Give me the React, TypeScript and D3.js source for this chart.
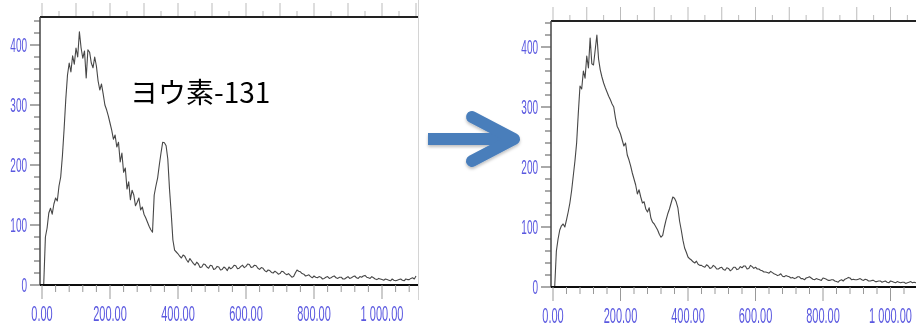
import React from 'react';
import * as d3 from 'd3';

// channel grid (energy units) shared by both spectra
const channels = d3.range(0, 1101, 5);

// counts (before)
const beforeCounts = [
  0, 0, 80, 95, 120, 128, 118, 135, 145, 140, 165, 180, 215, 260, 310, 350, 370, 355, 382, 368,
  395, 380, 422, 395, 378, 390, 345, 392, 388, 370, 362, 380, 365, 340, 325, 335, 318, 300, 292, 282,
  270, 258, 243, 250, 230, 238, 205, 220, 188, 195, 160, 172, 142, 158, 150, 132, 138, 145, 125, 130,
  118, 112, 105, 98, 92, 88, 150, 165, 178, 200, 220, 238, 237, 232, 210, 160, 120, 75, 58, 55,
  52, 48, 45, 50, 48, 42, 38, 44, 40, 36, 33, 38, 35, 29, 30, 35, 34, 30, 28, 33,
  32, 26, 27, 31, 30, 25, 26, 30, 28, 24, 30, 27, 29, 33, 32, 27, 28, 31, 33, 29,
  31, 35, 34, 29, 30, 33, 32, 28, 26, 29, 28, 24, 22, 25, 24, 21, 20, 23, 21, 18,
  19, 23, 22, 19, 17, 19, 16, 13, 14, 20, 25, 23, 22, 19, 18, 15, 16, 17, 14, 12,
  15, 13, 12, 14, 13, 10, 11, 13, 14, 11, 12, 14, 15, 12, 11, 13, 13, 10, 10, 12,
  14, 11, 12, 14, 15, 12, 11, 14, 13, 15, 16, 13, 12, 11, 14, 12, 10, 9, 11, 10,
  9, 8, 10, 9, 8, 7, 10, 8, 7, 8, 9, 10, 8, 7, 10, 9, 9, 11, 12, 10,
  15,
];

// counts (after)
const afterCounts = [
  0, 0, 60, 80, 95, 102, 105, 100, 112, 125, 140, 160, 185, 210, 240, 290, 335, 330, 360, 348,
  385, 365, 415, 372, 370, 395, 420, 380, 362, 350, 340, 332, 325, 318, 312, 305, 300, 282, 268, 262,
  255, 245, 235, 240, 220, 212, 202, 190, 180, 170, 155, 162, 150, 140, 142, 130, 125, 132, 115, 108,
  105, 100, 95, 88, 83, 86, 100, 112, 122, 130, 140, 150, 148, 142, 132, 110, 95, 78, 65, 58,
  50, 47, 45, 42, 40, 43, 38, 36, 36, 34, 33, 37, 35, 31, 32, 36, 34, 30, 30, 32,
  33, 29, 28, 32, 31, 27, 29, 33, 33, 29, 30, 34, 32, 35, 35, 30, 31, 36, 34, 31,
  33, 30, 30, 28, 27, 25, 25, 24, 23, 26, 24, 22, 21, 19, 20, 22, 18, 17, 19, 18,
  17, 15, 16, 14, 15, 17, 17, 14, 14, 12, 15, 16, 17, 15, 13, 12, 14, 13, 12, 11,
  15, 14, 13, 11, 11, 12, 12, 10, 9, 8, 11, 12, 10, 13, 14, 16, 15, 12, 13, 12,
  12, 13, 14, 12, 11, 13, 12, 10, 10, 11, 11, 9, 9, 10, 10, 8, 9, 10, 8, 7,
  10, 9, 8, 7, 9, 8, 7, 8, 8, 6, 7, 8, 9, 7, 8, 7, 7, 8, 8, 7,
  7,
];

const yTicks = [0, 100, 200, 300, 400];
const yTickLabels = ['0', '100', '200', '300', '400'];
const xTicks = [0, 200, 400, 600, 800, 1000];
const xTickLabels = ['0.00', '200.00', '400.00', '600.00', '800.00', '1 000.00'];
const title = 'ヨウ素-131';

const labelColor = '#5a58e0';

type PanelProps = {
  id: string;
  counts: number[];
  x0: number;
  pxPerUnit: number;
  top: number;
  base: number;
  rightEdge: number;
};

const Panel = ({ id, counts, x0, pxPerUnit, top, base, rightEdge }: PanelProps) => {
  const x = d3.scaleLinear().domain([0, 1100]).range([x0, x0 + 1100 * pxPerUnit]);
  const y = d3.scaleLinear().domain([0, 400]).range([base, base - 240]);
  const axisX = x0 - 2;

  const line = d3.line<number>()
    .x((_, i) => x(channels[i]))
    .y((d) => y(d));

  const minorY = d3.range(0, 441, 20);
  const minorX = d3.range(0, 1101, 40);
  const topTicks = d3.range(0, 1101, 50);

  return (
    <g filter="url(#soft)">
      <clipPath id={id}>
        <rect x={axisX} y={top} width={rightEdge - axisX} height={base - top} />
      </clipPath>

      {/* top ticks (faint) */}
      {topTicks.map((t) => (
        <line key={'t' + t} x1={x(t)} x2={x(t)} y1={top - (t % 100 === 0 ? 14 : 6)} y2={top}
          stroke="#bbb" strokeWidth={1} />
      ))}

      {/* spectrum */}
      <path d={line(counts) ?? ''} fill="none" stroke="#474747" strokeWidth={1.1}
        strokeLinejoin="round" clipPath={`url(#${id})`} />

      {/* frame */}
      <line x1={axisX} x2={rightEdge} y1={top} y2={top} stroke="#222" strokeWidth={2} />
      <line x1={axisX} x2={axisX} y1={top} y2={base} stroke="#444" strokeWidth={1.5} />
      <line x1={axisX} x2={rightEdge} y1={base} y2={base} stroke="#111" strokeWidth={2} />

      {/* y ticks */}
      {minorY.map((t) => (
        <line key={'my' + t} x1={axisX - (t % 100 === 0 ? 10 : 6)} x2={axisX} y1={y(t)} y2={y(t)}
          stroke="#555" strokeWidth={1} />
      ))}
      {yTicks.map((t, i) => (
        <text key={'yl' + t} transform={`translate(${axisX - 13},${y(t) + 7}) scale(0.5,1)`}
          textAnchor="end" fontSize={20} fontFamily="Liberation Sans, Arial, sans-serif"
          fill={labelColor}>{yTickLabels[i]}</text>
      ))}

      {/* x ticks */}
      {minorX.map((t) => (
        <line key={'mx' + t} x1={x(t)} x2={x(t)} y1={base} y2={base + (t % 200 === 0 ? 14 : 7)}
          stroke="#999" strokeWidth={1} />
      ))}
      {xTicks.map((t, i) => (
        <text key={'xl' + t} transform={`translate(${x(t)},${base + 36}) scale(0.5,1)`}
          textAnchor="middle" fontSize={22} fontFamily="Liberation Sans, Arial, sans-serif"
          fill={labelColor}>{xTickLabels[i]}</text>
      ))}
    </g>
  );
};

const App = () => {
  return (
    <svg width={916} height={327} style={{ position: 'absolute', left: 0, top: 0, background: '#fff' }}>
      <defs>
        <filter id="soft" x="-5%" y="-5%" width="110%" height="110%">
          <feGaussianBlur stdDeviation="0.45" />
        </filter>
        <filter id="shadow" x="-20%" y="-20%" width="140%" height="160%">
          <feDropShadow dx="0" dy="2" stdDeviation="1.5" floodColor="#000" floodOpacity="0.25" />
        </filter>
      </defs>
      <rect width={916} height={327} fill="#fff" />

      <Panel id="clipL" counts={beforeCounts} x0={42} pxPerUnit={0.34} top={17} base={285} rightEdge={418} />
      <line x1={418.5} x2={418.5} y1={0} y2={300} stroke="#d4d4d4" strokeWidth={1} />
      <Panel id="clipR" counts={afterCounts} x0={553} pxPerUnit={0.3375} top={21} base={287} rightEdge={916} />

      <text x={130} y={103} fontSize={28} fontFamily="Noto Sans CJK JP, Noto Sans, sans-serif" fill="#000">
        {title}
      </text>

      {/* arrow */}
      <g filter="url(#shadow)" stroke="#4a7ebb" strokeWidth={12} strokeLinecap="round"
        strokeLinejoin="round" fill="none">
        <path d="M428,139 L510,139" strokeLinecap="butt" />
        <path d="M472,117 L514,139 L472,161" />
      </g>
    </svg>
  );
};

export default App;
